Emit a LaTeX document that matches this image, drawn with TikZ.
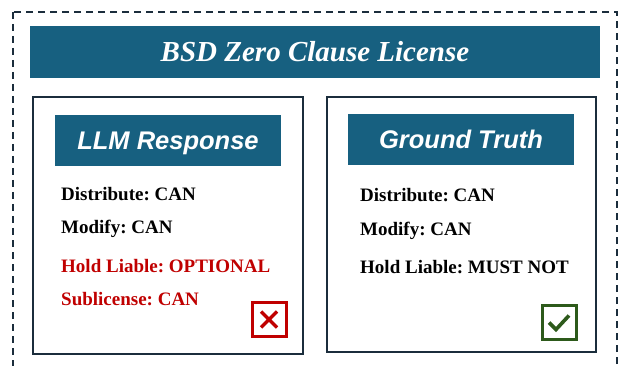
\documentclass[tikz,border=0pt]{standalone}
\usepackage{fontspec}
\setmainfont{Liberation Serif}
\setsansfont{Liberation Sans}
\usetikzlibrary{positioning}
\definecolor{headblue}{RGB}{23,96,128}
\definecolor{frame}{RGB}{27,45,60}
\definecolor{wrongred}{RGB}{192,0,0}
\definecolor{okgreen}{RGB}{45,90,27}
\frenchspacing

\begin{document}
\begin{tikzpicture}[x=1pt, y=-1pt,
  panel/.style={draw=frame, line width=2pt, fill=white},
  head/.style={fill=headblue, text=white, font=\sffamily\bfseries\itshape\fontsize{25.5}{30}\selectfont, minimum width=226pt, minimum height=51pt, inner sep=0pt, text depth=0pt},
  item/.style={anchor=west, inner sep=0pt, font=\bfseries\fontsize{19}{22}\selectfont},
  bad/.style={item, text=wrongred},
  verdict/.style={draw, line width=3pt, minimum size=34pt, inner sep=0pt}]
\useasboundingbox (0,0) rectangle (621,366);
\draw[frame, line width=1.2pt, dash pattern=on 7pt off 5pt] (13,12) rectangle (617,390);
\node[fill=headblue, text=white, minimum width=570pt, minimum height=52pt, inner sep=0pt,
  font=\bfseries\itshape\fontsize{29}{34}\selectfont] (title) at (315,52) {BSD Zero Clause License};
% two panels
\draw[panel] (33,97) rectangle (303,354);
\draw[panel] (327,97) rectangle (596,352);
\node[head] (llm) at (168,140.5) {LLM Response};
\node[head] (truth) at (461,139.5) {Ground Truth};
% left answers
\node[item] (l1) at (61,194) {Distribute: CAN};
\node[item] (l2) at (61,229) {Modify: CAN};
\node[bad] (l3) at (61,266) {Hold Liable: OPTIONAL};
\node[bad] (l4) at (61,299) {Sublicense: CAN};
% right answers
\node[item] (r1) at (360,195) {Distribute: CAN};
\node[item] (r2) at (360,231) {Modify: CAN};
\node[item] (r3) at (360,267) {Hold Liable: MUST NOT};
% verdicts
\node[verdict, draw=wrongred] (cross) at (269,319.5) {};
\draw[wrongred, line width=3.2pt] ([shift={(-8,-8)}]cross.center) -- ([shift={(8,8)}]cross.center)
  ([shift={(-8,8)}]cross.center) -- ([shift={(8,-8)}]cross.center);
\node[verdict, draw=okgreen] (check) at (559,322.5) {};
\draw[okgreen, line width=3.6pt] ([shift={(-10,0)}]check.center) -- ([shift={(-3,7)}]check.center)
  -- ([shift={(10,-7)}]check.center);
\end{tikzpicture}
\end{document}
